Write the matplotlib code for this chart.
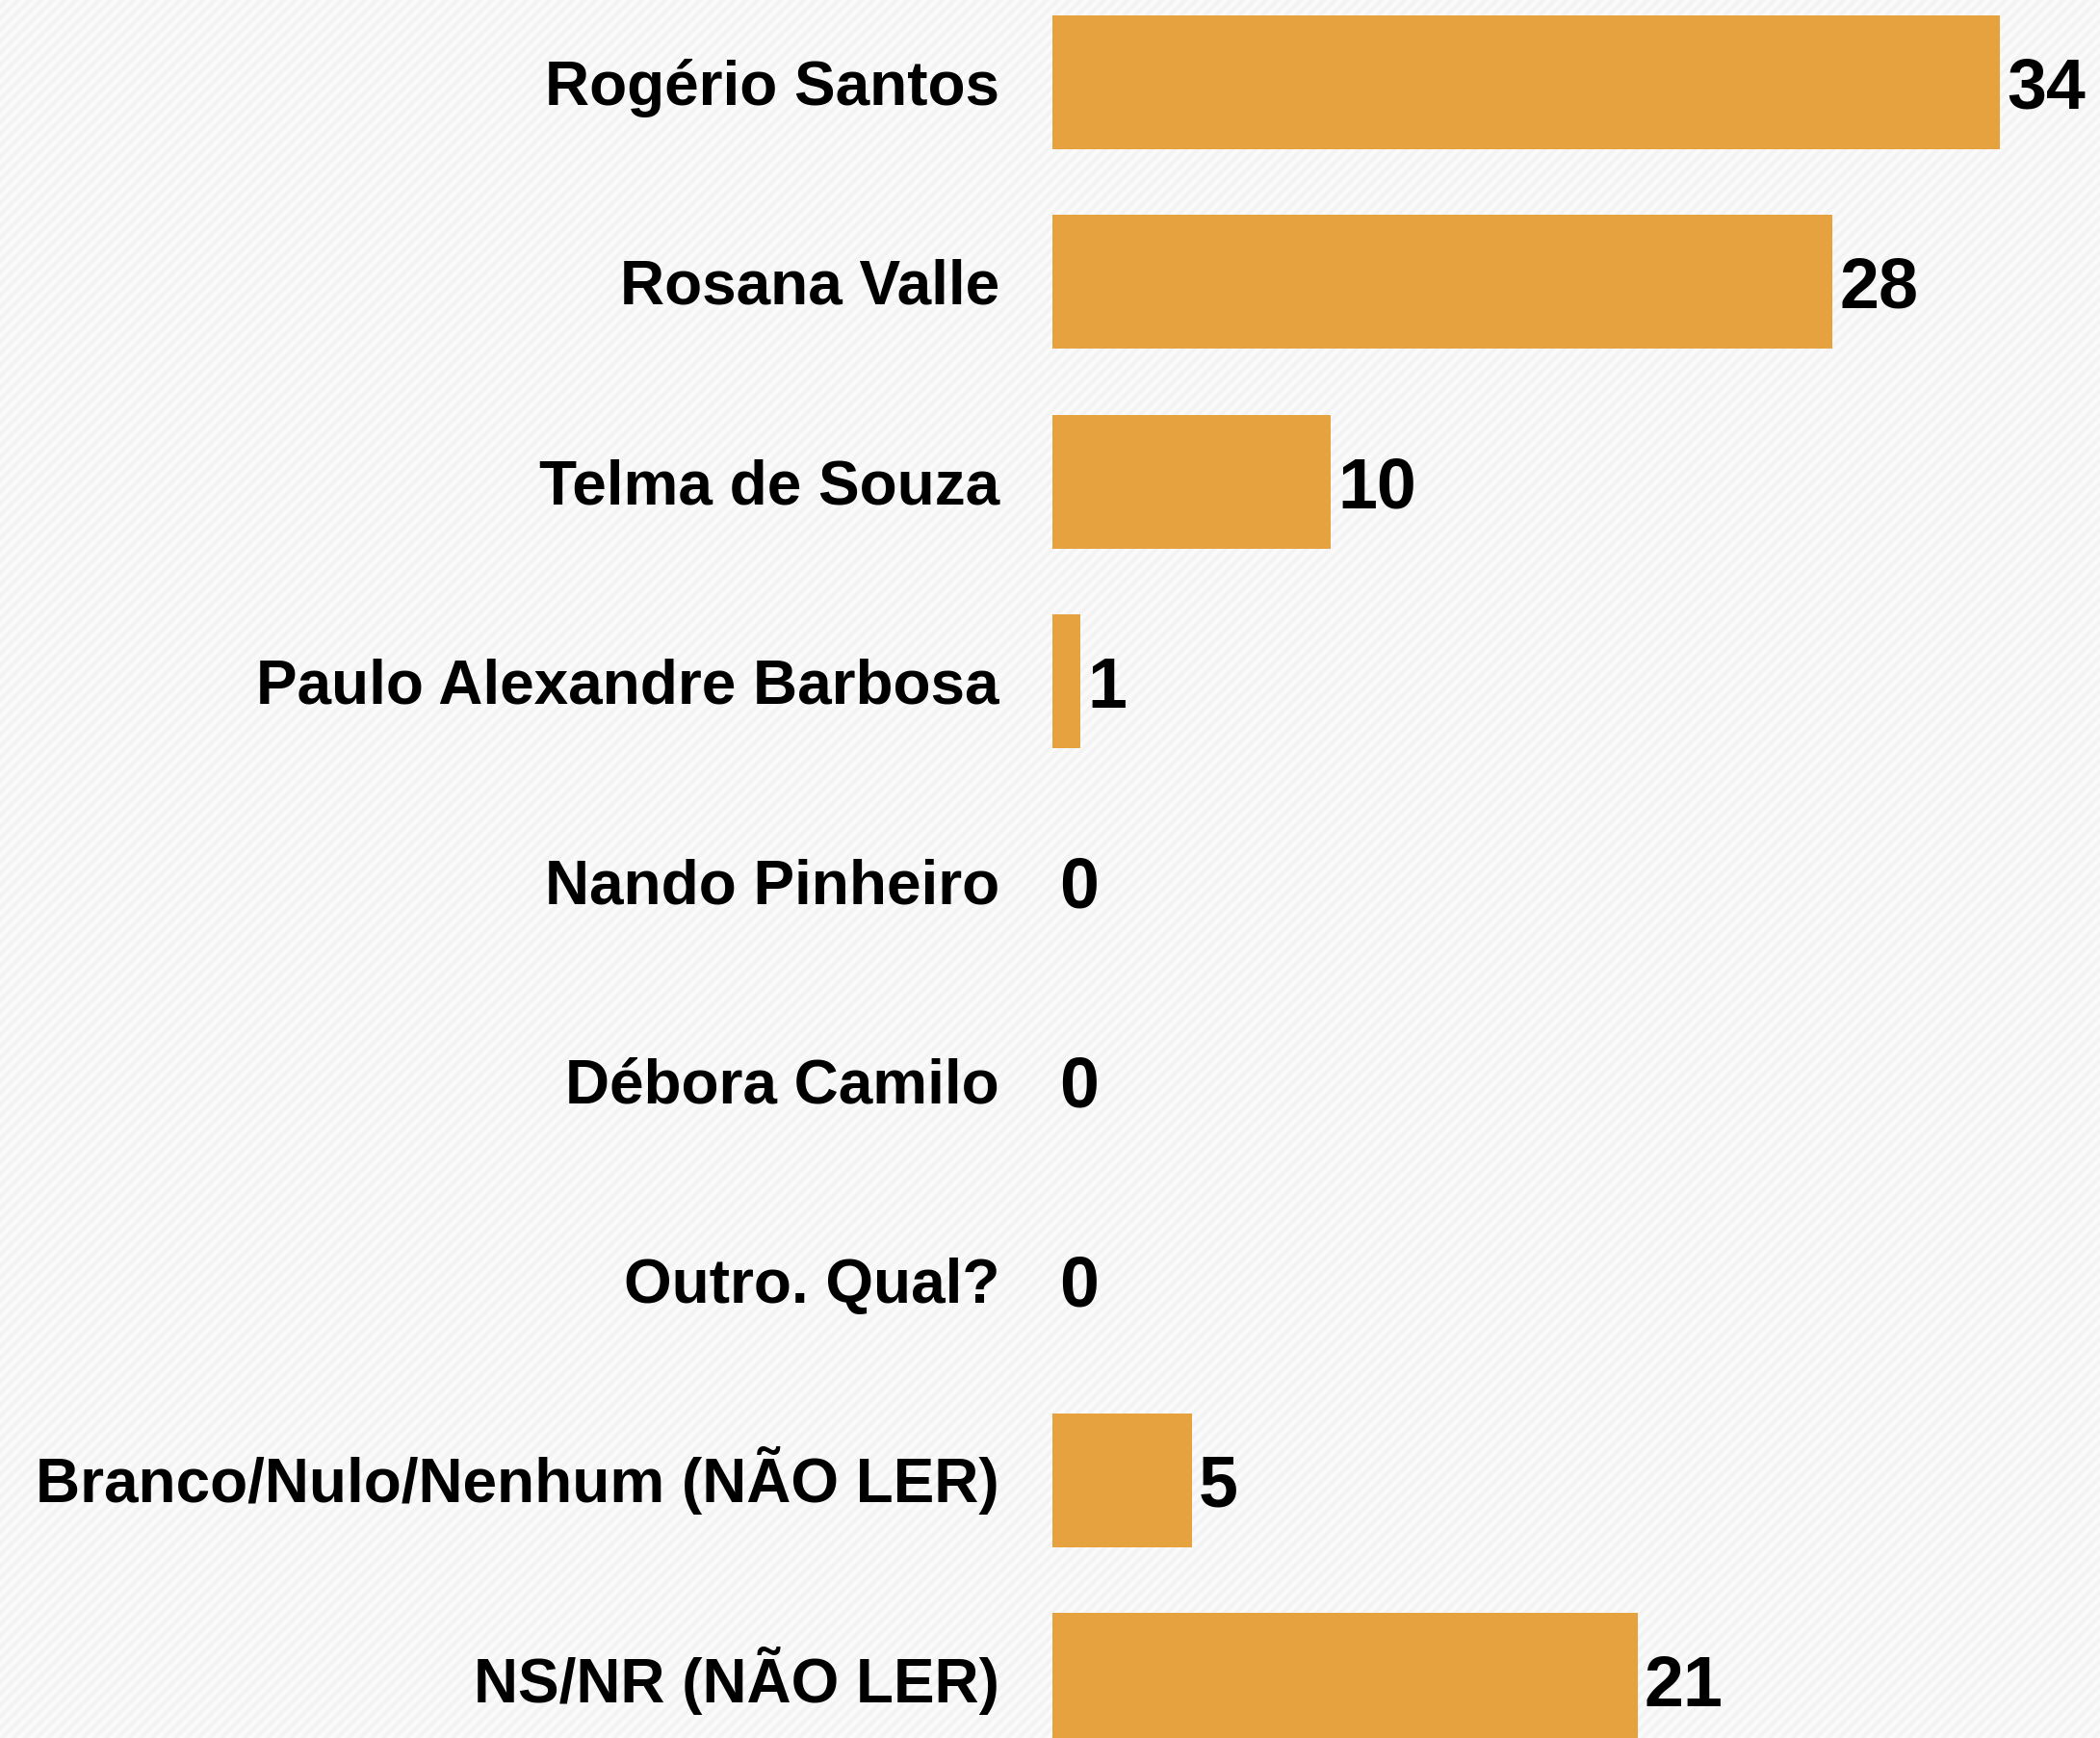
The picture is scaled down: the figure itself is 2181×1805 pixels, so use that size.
import matplotlib
matplotlib.use("Agg")
import matplotlib.pyplot as plt
import numpy as np

categories = ["Rogério Santos", "Rosana Valle", "Telma de Souza",
              "Paulo Alexandre Barbosa", "Nando Pinheiro", "Débora Camilo",
              "Outro. Qual?", "Branco/Nulo/Nenhum (NÃO LER)", "NS/NR (NÃO LER)"]
values = [34, 28, 10, 1, 0, 0, 0, 5, 21]

W, H = 2181, 1805
DPI = 100
fig = plt.figure(figsize=(W / DPI, H / DPI), dpi=DPI)

# striped background texture
bg = fig.add_axes([0, 0, 1, 1])
yy, xx = np.mgrid[0:H, 0:W]
phase = ((xx + yy) % 12) / 12.0
tex = 0.952 + 0.035 * (0.5 + 0.5 * np.cos(2 * np.pi * phase))
bg.imshow(np.dstack([tex, tex, tex]), aspect="auto", interpolation="nearest")
bg.set_axis_off()

ax = fig.add_axes([0, 0, 1, 1])
ax.patch.set_alpha(0)
unit_y = 207.4
top = -85.5 / unit_y
bottom = (H - 85.5) / unit_y
x0 = 1093
ux = (2077 - 1093) / 34
ax.set_xlim(-x0 / ux, (W - x0) / ux)
ax.set_ylim(bottom, top)

ypos = np.arange(len(categories))
ax.barh(ypos, values, height=139 / unit_y, color="#E5A23F", linewidth=0)

label_x = -(1093 - 1038) / ux
for y, cat, v in zip(ypos, categories, values):
    ax.text(label_x, y + 23 / unit_y, cat, ha="right", va="baseline",
            fontsize=46, fontweight="bold", family="Liberation Sans", color="black")
    ax.text(v + 7 / ux, y + 27 / unit_y, str(v), ha="left", va="baseline",
            fontsize=53, fontweight="bold", family="Liberation Sans", color="black")

ax.set_axis_off()
fig.savefig("out.png", dpi=DPI)
